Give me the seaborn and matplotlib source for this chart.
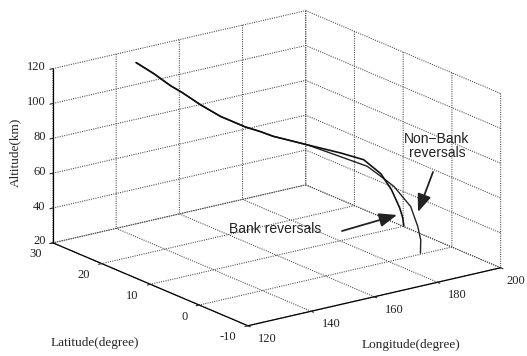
import numpy as np
import matplotlib
matplotlib.use("Agg")
import matplotlib.pyplot as plt
import seaborn as sns
from mpl_toolkits.mplot3d import proj3d

sns.set_style("white")
plt.rcParams["font.family"] = ["Liberation Serif", "DejaVu Serif"]

# Reentry trajectories: longitude (deg), latitude (deg), altitude (km)
lon_bank = [140.0, 143.1, 146.1, 148.1, 151.4, 155.0, 159.4, 162.1, 164.4, 170.4,
            179.3, 185.5, 190.0, 192.9, 195.05, 195.85, 196.2]
lat_bank = [25.9, 24.3, 22.8, 21.8, 20.1, 18.3, 16.1, 14.7, 13.6, 10.5,
            9.4, 8.7, 8.1, 7.8, 7.5, 7.4, 7.4]
alt_bank = [120.0, 114.3, 107.9, 104.5, 98.0, 91.9, 86.7, 84.5, 82.2, 78.5,
            71.4, 65.8, 56.6, 46.6, 35.6, 29.7, 25.0]

lon_nonbank = [140.0, 143.1, 146.1, 148.1, 151.4, 155.0, 159.4, 162.1, 164.4, 170.4,
               176.3, 181.1, 183.4, 185.8, 188.8, 190.1, 190.6, 190.5]
lat_nonbank = [25.9, 24.3, 22.8, 21.8, 20.1, 18.3, 16.1, 14.7, 13.6, 10.5,
               7.5, 5.1, 3.9, 2.7, 1.2, 0.6, 0.3, 0.3]
alt_nonbank = [120.0, 114.3, 107.9, 104.5, 98.0, 91.9, 86.7, 84.5, 82.2, 78.5,
               72.8, 68.1, 63.0, 57.5, 46.5, 35.3, 27.7, 20.1]

lon_ticks = [120, 140, 160, 180, 200]
lat_ticks = [-10, 0, 10, 20, 30]
alt_ticks = [20, 40, 60, 80, 100, 120]

W, H = 527, 356
fig = plt.figure(figsize=(W / 100, H / 100), dpi=100)
S = 356
cx, cy = 272.0, H - 173.0
ax = fig.add_axes([(cx - S / 2) / W, (cy - S / 2) / H, S / W, S / H], projection="3d",
                  proj_type="ortho")
ax.set_box_aspect((1, 1.05, 0.585), zoom=1.337)
ax.view_init(elev=18.2, azim=-126.3)

ax.plot(lon_nonbank, lat_nonbank, alt_nonbank, color="#222222", lw=1.0)
ax.plot(lon_bank, lat_bank, alt_bank, color="#111111", lw=1.2)

ax.set_xlim(120, 200)
ax.set_ylim(-10, 30)
ax.set_zlim(20, 120)
ax.set_xticks(lon_ticks)
ax.set_yticks(lat_ticks)
ax.set_zticks(alt_ticks)

for axis in (ax.xaxis, ax.yaxis, ax.zaxis):
    axis.set_tick_params(labelbottom=False)
    axis.label.set_visible(False)
    axis.set_pane_color((1, 1, 1, 0))
    axis.pane.set_edgecolor((1, 1, 1, 0))
    axis._axinfo["grid"].update(color="#444444", linestyle=(0, (1, 1.2)), linewidth=0.75)
    axis._axinfo["tick"]["inward_factor"] = 0.15
    axis._axinfo["tick"]["outward_factor"] = 0.0
    axis._axinfo["axisline"]["color"] = "black"
    axis.line.set_color("black")
    axis.line.set_linewidth(0.9)
ax.grid(True)

fig.canvas.draw()
M = ax.get_proj()


def to_figure(x, y, z):
    """Project a data point of the 3D axes to figure-fraction coordinates."""
    xs, ys, _ = proj3d.proj_transform(x, y, z, M)
    disp = ax.transData.transform((xs, ys))
    return fig.transFigure.inverted().transform(disp)


# Tick labels set just outside each axis edge
tick_kw = dict(fontsize=9, color="#222222")
for v in lon_ticks:
    fx, fy = to_figure(v, -12.15, 15.1)
    fx = min(fx, (W - 21) / W)  # keep the last label inside the canvas
    fig.text(fx, fy, str(v), ha="left", va="center", **tick_kw)
for v in lat_ticks:
    fx, fy = to_figure(116.35, v, 14.9)
    fig.text(fx, fy, str(v), ha="right", va="center", **tick_kw)
for v in alt_ticks:
    fx, fy = to_figure(117.7, 30, v + 1.8)
    fig.text(fx, fy, str(v), ha="right", va="center", **tick_kw)

fig.text(15 / W, 1 - 152 / H, "Altitude(km)", rotation=90, ha="center", va="center", fontsize=9.5)
fig.text(95 / W, 1 - 343 / H, "Latitude(degree)", ha="center", va="center", fontsize=9.5)
fig.text(411 / W, 1 - 345 / H, "Longitude(degree)", ha="center", va="center", fontsize=9.5)

sans = ["Liberation Sans", "DejaVu Sans"]
fig.text(437 / W, 1 - 146 / H, "Non\u2212Bank\nreversals", ha="center", va="center",
         fontsize=10, family=sans, linespacing=1.05, color="#222222")
fig.text(275 / W, 1 - 229 / H, "Bank reversals", ha="center", va="center",
         fontsize=10, family=sans, color="#222222")

arrow_kw = dict(arrowstyle="-|>,head_length=0.9,head_width=0.35", color="#222222", lw=1.3,
                mutation_scale=12, shrinkA=0, shrinkB=0)
ax.annotate("", xy=(418 / W, 1 - 212 / H), xytext=(433 / W, 1 - 172 / H),
            xycoords="figure fraction", textcoords="figure fraction",
            arrowprops=arrow_kw, annotation_clip=False)
ax.annotate("", xy=(397 / W, 1 - 215 / H), xytext=(342 / W, 1 - 231 / H),
            xycoords="figure fraction", textcoords="figure fraction",
            arrowprops=arrow_kw, annotation_clip=False)

fig.savefig("out.png", dpi=100)
